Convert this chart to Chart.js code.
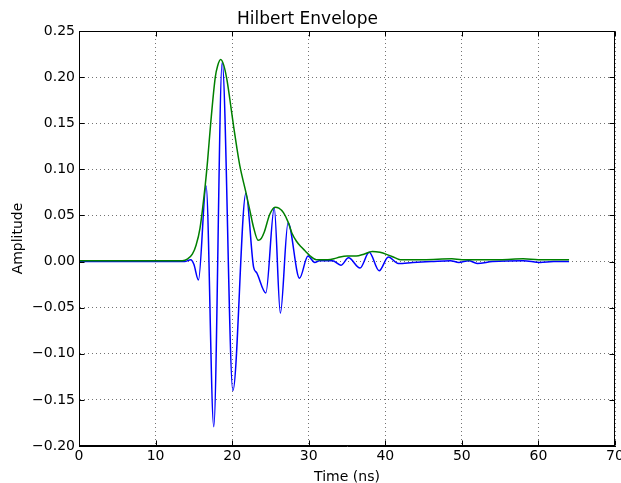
<!DOCTYPE html>
<html>
<head>
<meta charset="utf-8">
<script src="https://cdn.jsdelivr.net/npm/chart.js@4/dist/chart.umd.min.js"></script>
<style>
  html, body { margin: 0; padding: 0; background: #fff; }
  #wrap { width: 621px; height: 483px; }
</style>
</head>
<body>
<div id="wrap"><canvas id="envelopeChart"></canvas></div>
<script>
// Raw trace (blue), sampled at its turning points
const signalT = [0, 5, 10, 13.8, 14.6, 15.0, 15.6, 16.6, 17.6, 18.7,
    20.1, 21.8, 22.8, 23.2, 24.4, 25.5, 26.3, 27.3, 28.8, 29.9,
    30.8, 31.4, 33.1, 34.2, 35.2, 36.7, 37.9, 39.2, 40.4, 41.7,
    43.6, 46.0, 48.5, 49.6, 50.9, 52.0, 54.0, 58.0, 60.2, 62.0, 64.0];
const signalAmp = [0, 0, 0, 0, 0.002, -0.003, -0.020, 0.082, -0.179, 0.216,
    -0.140, 0.074, -0.006, -0.012, -0.034, 0.058, -0.056, 0.042, -0.018, 0.006,
    -0.001, 0.001, 0.001, -0.004, 0.004, -0.007, 0.010, -0.010, 0.005, -0.002,
    -0.001, 0, 0.001, -0.001, 0.001, -0.002, 0, 0.001, -0.001, 0, 0];

// Hilbert envelope (green)
const envT = [0, 10, 13.5, 14.2, 14.8, 15.3, 15.8, 16.5, 16.8, 17.2,
    17.8, 18.1, 18.5, 18.9, 19.3, 19.7, 20.2, 20.6, 21.0,
    21.8, 22.3, 22.8, 23.4, 23.8, 24.2, 24.9, 25.6, 26.1, 26.7,
    27.3, 27.8, 28.4, 29.0, 29.6, 30.2, 31.0, 32.5, 33.3, 34.1,
    35.0, 36.2, 37.2, 38.3, 39.3, 40.4, 41.3, 42.0, 45.0, 48.7,
    50.0, 55.0, 58.0, 60.0, 64.0];
const envAmp = [0.001, 0.001, 0.001, 0.003, 0.008, 0.018, 0.036, 0.084, 0.110, 0.150,
    0.200, 0.212, 0.219, 0.213, 0.198, 0.176, 0.146, 0.124, 0.104,
    0.075, 0.056, 0.037, 0.023, 0.025, 0.032, 0.051, 0.059, 0.058, 0.053,
    0.043, 0.031, 0.022, 0.016, 0.011, 0.006, 0.002, 0.002, 0.003, 0.005,
    0.006, 0.006, 0.008, 0.011, 0.010, 0.007, 0.004, 0.002, 0.002, 0.003,
    0.002, 0.002, 0.003, 0.002, 0.002];

const xTicks = [0, 10, 20, 30, 40, 50, 60, 70];
const yTicks = [-0.20, -0.15, -0.10, -0.05, 0.00, 0.05, 0.10, 0.15, 0.20, 0.25];

const toPoints = (ts, vs) => ts.map((t, i) => ({ x: t, y: vs[i] }));
const fmtY = (v) => (v < -1e-9 ? "\u2212" : "") + Math.abs(v).toFixed(2);

const FONT = "DejaVu Sans";

// box around the plot + short inward tick marks on every side
const axesFrame = {
    id: "axesFrame",
    afterDraw(chart) {
        const { ctx, chartArea: a, scales: { x, y } } = chart;
        const L = Math.round(a.left) + 0.5, R = Math.round(a.right) - 0.5;
        const T = Math.round(a.top) + 0.5, B = Math.round(a.bottom) - 0.5;
        ctx.save();
        ctx.strokeStyle = "#000";
        ctx.lineWidth = 1;
        ctx.beginPath();
        xTicks.forEach((v) => {
            const px = Math.round(x.getPixelForValue(v)) + 0.5;
            ctx.moveTo(px, B); ctx.lineTo(px, B - 5);
            ctx.moveTo(px, T); ctx.lineTo(px, T + 5);
        });
        yTicks.forEach((v) => {
            const py = Math.round(y.getPixelForValue(v)) + 0.5;
            ctx.moveTo(L, py); ctx.lineTo(L + 5, py);
            ctx.moveTo(R, py); ctx.lineTo(R - 5, py);
        });
        ctx.stroke();
        ctx.strokeRect(L, T, R - L, B - T);
        ctx.restore();
    },
};

new Chart(document.getElementById("envelopeChart"), {
    type: "line",
    data: {
        datasets: [
            {
                label: "signal",
                data: toPoints(signalT, signalAmp),
                borderColor: "#0000ff",
                borderWidth: 1.5,
                pointRadius: 0,
                cubicInterpolationMode: "monotone",
                order: 1,
            },
            {
                label: "envelope",
                data: toPoints(envT, envAmp),
                borderColor: "#008000",
                borderWidth: 1.5,
                pointRadius: 0,
                cubicInterpolationMode: "monotone",
                order: 0,
            },
        ],
    },
    options: {
        responsive: true,
        maintainAspectRatio: false,
        animation: false,
        layout: { padding: { left: 0, right: 6, top: 0, bottom: 0 } },
        plugins: {
            legend: { display: false },
            tooltip: { enabled: false },
            title: {
                display: true,
                text: "Hilbert Envelope",
                color: "#000",
                font: { family: FONT, size: 17, weight: "normal" },
                padding: { top: 9, bottom: 1.6 },
            },
        },
        scales: {
            x: {
                type: "linear",
                min: 0,
                max: 70,
                afterBuildTicks: (s) => { s.ticks = xTicks.map((v) => ({ value: v })); },
                afterFit: (s) => { s.height = 37; s.paddingLeft = 0; s.paddingRight = 0; },
                ticks: {
                    color: "#000",
                    padding: 2,
                    maxRotation: 0,
                    font: { family: FONT, size: 14 },
                },
                grid: { color: "rgba(0,0,0,0.55)", lineWidth: 1, drawTicks: false },
                border: { display: true, color: "#000", width: 1, dash: [1, 3] },
                title: {
                    display: true,
                    text: "Time (ns)",
                    color: "#000",
                    font: { family: FONT, size: 14 },
                    padding: { top: 0, bottom: -3 },
                },
            },
            y: {
                type: "linear",
                min: -0.2,
                max: 0.25,
                afterBuildTicks: (s) => { s.ticks = yTicks.map((v) => ({ value: v })); },
                afterFit: (s) => { s.width = 79; s.paddingTop = 0; s.paddingBottom = 0; },
                ticks: {
                    color: "#000",
                    padding: 4,
                    font: { family: FONT, size: 14 },
                    callback: (v) => fmtY(v),
                },
                grid: { color: "rgba(0,0,0,0.55)", lineWidth: 1, drawTicks: false },
                border: { display: true, color: "#000", width: 1, dash: [1, 3] },
                title: {
                    display: true,
                    text: "Amplitude",
                    color: "#000",
                    font: { family: FONT, size: 14 },
                    padding: { top: 10, bottom: 0 },
                },
            },
        },
    },
    plugins: [axesFrame],
});
</script>
</body>
</html>
